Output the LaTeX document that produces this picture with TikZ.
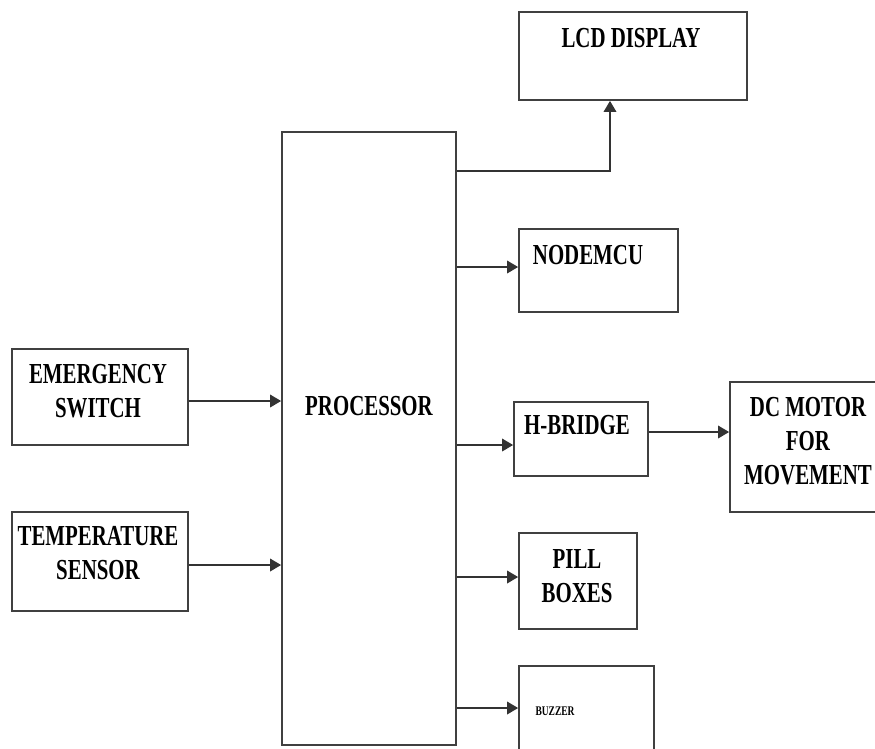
\documentclass[tikz,border=0pt]{standalone}
\usepackage{fontspec}
\newfontfamily\blockfont{Liberation Serif}[FakeStretch=0.72]
\usetikzlibrary{arrows.meta, calc}

\begin{document}
\begin{tikzpicture}[
    x=0.02cm, y=-0.02cm,
    every node/.style={font=\blockfont\bfseries\fontsize{16.5pt}{19.5pt}\selectfont},
    blk/.style={draw=black!75, line width=1pt, rectangle, inner sep=0pt},
    lbl/.style={align=center, inner sep=0pt},
    arr/.style={-{Triangle[length=0.22cm, width=0.25cm]}, line width=1pt, draw=black!80}
]
    \clip (0,0) rectangle (875,748);
    \fill[white] (0,0) rectangle (875,748);

    % Blocks
    \node[blk, minimum width=3.48cm, minimum height=12.26cm] (proc) at (369,438.5) {};
    \node[blk, minimum width=3.52cm, minimum height=1.92cm] (emergency) at (100,397) {};
    \node[blk, minimum width=3.52cm, minimum height=1.98cm] (temp) at (100,561.5) {};
    \node[blk, minimum width=4.56cm, minimum height=1.76cm] (lcd) at (633,56) {};
    \node[blk, minimum width=3.18cm, minimum height=1.66cm] (nodemcu) at (598.5,270.5) {};
    \node[blk, minimum width=2.68cm, minimum height=1.48cm] (hbridge) at (581,439) {};
    \node[blk, minimum width=3.0cm, minimum height=2.6cm] (motor) at (805,447) {};
    \node[blk, minimum width=2.36cm, minimum height=1.92cm] (pill) at (578,581) {};
    \node[blk, minimum width=2.7cm, minimum height=1.88cm] (buzzer) at (586.5,713) {};

    % Labels
    \node[lbl] (proctxt) at (369,406) {PROCESSOR};
    \node[lbl] (emtxt) at (98,391) {EMERGENCY\\SWITCH};
    \node[lbl] (temptxt) at (98,553) {TEMPERATURE\\SENSOR};
    \node[lbl] (lcdtxt) at (631,38) {LCD DISPLAY};
    \node[lbl] (nodetxt) at (588,255) {NODEMCU};
    \node[lbl] (hbtxt) at (577,425) {H-BRIDGE};
    \node[lbl] (motortxt) at (808,441) {DC MOTOR\\FOR\\MOVEMENT};
    \node[lbl] (pilltxt) at (577,576) {PILL\\BOXES};
    \node[lbl, font=\blockfont\bfseries\fontsize{7.5pt}{9pt}\selectfont] (buzztxt) at (555,711) {BUZZER};

    % Connections
    \draw[arr] (emergency.east |- 0,401) -- (proc.west |- 0,401);
    \draw[arr] (temp.east |- 0,565) -- (proc.west |- 0,565);
    \draw[arr] (proc.east |- 0,171) -| ($(lcd.south)+(-23,0)$);
    \draw[arr] (proc.east |- 0,267) -- (nodemcu.west |- 0,267);
    \draw[arr] (proc.east |- 0,445) -- (hbridge.west |- 0,445);
    \draw[arr] (hbridge.east |- 0,432) -- (motor.west |- 0,432);
    \draw[arr] (proc.east |- 0,577) -- (pill.west |- 0,577);
    \draw[arr] (proc.east |- 0,708) -- (buzzer.west |- 0,708);
\end{tikzpicture}
\end{document}
